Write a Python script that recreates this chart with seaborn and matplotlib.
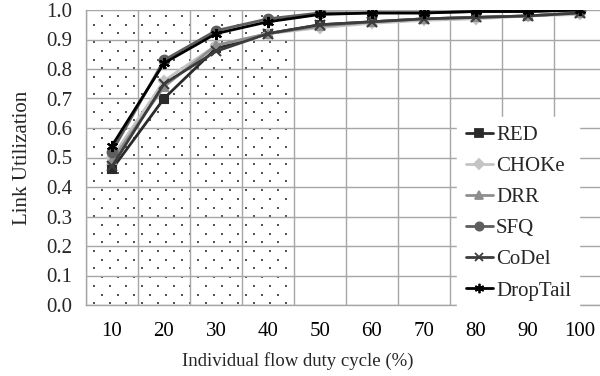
import numpy as np
import pandas as pd
import matplotlib
matplotlib.use("Agg")
import matplotlib.pyplot as plt
import seaborn as sns
from matplotlib.lines import Line2D

duty = [10, 20, 30, 40, 50, 60, 70, 80, 90, 100]
red      = [0.46, 0.70, 0.87, 0.92, 0.95, 0.96, 0.97, 0.975, 0.98, 0.99]
choke    = [0.50, 0.76, 0.88, 0.92, 0.94, 0.955, 0.965, 0.97, 0.98, 0.985]
drr      = [0.49, 0.74, 0.88, 0.92, 0.945, 0.96, 0.97, 0.975, 0.98, 0.99]
sfq      = [0.52, 0.83, 0.93, 0.97, 0.99, 0.99, 0.99, 0.995, 0.995, 1.0]
codel    = [0.47, 0.75, 0.86, 0.92, 0.95, 0.96, 0.97, 0.975, 0.98, 0.99]
droptail = [0.54, 0.82, 0.92, 0.96, 0.985, 0.99, 0.99, 0.995, 0.995, 1.0]

names = ["RED", "CHOKe", "DRR", "SFQ", "CoDel", "DropTail"]
series = [red, choke, drr, sfq, codel, droptail]
colors = ["#2a2a2a", "#c4c4c4", "#8e8e8e", "#5e5e5e", "#3c3c3c", "#000000"]
markers = ["s", "D", "^", "o", "x", (6, 2, 0)]
msizes = [6, 5.5, 6, 7, 7, 8]

df = pd.DataFrame({
    "duty": np.tile(duty, len(names)),
    "util": np.concatenate(series),
    "scheme": np.repeat(names, len(duty)),
})

sns.set_style("white")
plt.rcParams["font.family"] = "serif"
plt.rcParams["font.serif"] = ["Liberation Serif", "DejaVu Serif"]

fig = plt.figure(figsize=(6.0, 3.76), dpi=100)
ax = fig.add_axes([86/600, 1-305/376, 520/600, 295/376])

# dotted background pattern for the 10-40 % region (staggered dot grid)
dx, dy = 3.08, 0.0295
rows = np.arange(0.006, 1.0, dy)
pts_x, pts_y = [], []
for k, yv in enumerate(rows):
    xs = np.arange(5 + 1.5 + (dx / 2 if k % 2 else 0), 45, dx)
    pts_x.extend(xs)
    pts_y.extend([yv] * len(xs))
ax.scatter(pts_x, pts_y, s=0.9, marker="s", color="#555555", linewidths=0, zorder=0.5)

for i, n in enumerate(names):
    sub = df[df.scheme == n]
    sns.lineplot(data=sub, x="duty", y="util", ax=ax, color=colors[i],
                 marker=markers[i], markersize=msizes[i], linewidth=2.0,
                 markeredgecolor=colors[i], markeredgewidth=1.5,
                 legend=False, zorder=3 + (i == 5))

ax.set_xlim(5, 105)
ax.set_ylim(0, 1.0)
ax.set_xticks(duty)
ax.set_xticklabels([str(d) for d in duty])
ax.set_xticks(np.arange(5, 106, 10), minor=True)
ax.set_yticks(np.arange(0, 1.01, 0.1))
ax.set_yticklabels([f"{v:.1f}" for v in np.arange(0, 1.01, 0.1)])

ax.grid(False)
ax.grid(True, which="minor", axis="x", color="#a6a6a6", linewidth=1.0, zorder=1)
ax.grid(True, which="major", axis="y", color="#a6a6a6", linewidth=1.0, zorder=1)
ax.set_axisbelow(True)

ax.tick_params(axis="x", which="major", length=0, labelsize=15, pad=12, colors="black")
ax.tick_params(axis="x", which="minor", length=5, color="#a6a6a6", direction="out")
ax.tick_params(axis="y", length=4, color="#a6a6a6", labelsize=15, pad=6)

for s in ["top", "right"]:
    ax.spines[s].set_visible(False)
for s in ["left", "bottom"]:
    ax.spines[s].set_color("#a6a6a6")
    ax.spines[s].set_linewidth(1.0)

ax.set_ylabel("Link Utilization", fontsize=15, labelpad=10)
ax.set_xlabel("Individual flow duty cycle (%)", fontsize=13.5)
ax.xaxis.set_label_coords((298 - 86) / 520, -47 / 295)

handles = [Line2D([0], [0], color=colors[i], marker=markers[i], markersize=msizes[i] * 0.85,
                  markeredgecolor=colors[i], markeredgewidth=1.3, linewidth=2.0)
           for i in range(len(names))]
leg = ax.legend(handles, names, loc="upper left", bbox_to_anchor=((447 - 86) / 520, (305 - 107) / 295),
                frameon=True, fontsize=15, handlelength=1.3, handletextpad=0.15,
                labelspacing=0.55, borderpad=0.4, fancybox=False)
leg.get_frame().set_facecolor("white")
leg.get_frame().set_edgecolor("white")
leg.get_frame().set_alpha(1.0)

fig.savefig("out.png", dpi=100)
